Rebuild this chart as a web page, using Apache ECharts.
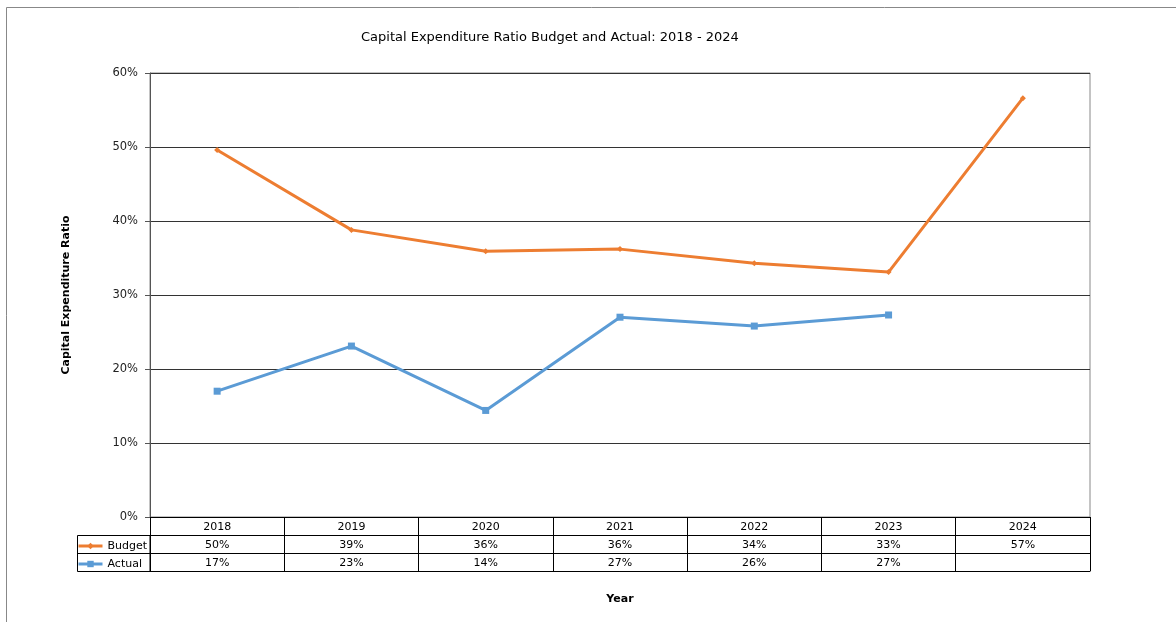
<!DOCTYPE html>
<html>
<head>
<meta charset="utf-8">
<script src="https://cdn.jsdelivr.net/npm/echarts@6/dist/echarts.min.js"></script>
<style>
  html, body { margin: 0; padding: 0; background: #fff; }
  #chart { width: 1176px; height: 622px; }
</style>
</head>
<body>
<div id="chart"></div>
<script>
// Capital expenditure ratio, budget vs actual, by year
const years = ['2018', '2019', '2020', '2021', '2022', '2023', '2024'];
const budget = [0.496, 0.388, 0.359, 0.362, 0.343, 0.331, 0.566];
const actual = [0.170, 0.231, 0.144, 0.270, 0.258, 0.273, null];
const yMin = 0, yMax = 0.6, yStep = 0.1;

const FONT = 'DejaVu Sans';
const pct = v => (v == null ? '' : Math.round(v * 100) + '%');

// plot rectangle
const G = { left: 150, top: 73, right: 86, bottom: 105 };
const ROW = 18;

const chart = echarts.init(document.getElementById('chart'), null, { renderer: 'canvas' });

function tableAxis(offset, formatter, extra) {
  return Object.assign({
    type: 'category',
    data: years,
    position: 'bottom',
    offset: offset,
    boundaryGap: true,
    axisLine: { show: true, lineStyle: { color: '#000', width: 1 } },
    axisTick: { show: true, length: ROW, lineStyle: { color: '#000', width: 1 } },
    splitLine: { show: false },
    axisLabel: {
      show: true, interval: 0, margin: 5,
      color: '#000', fontFamily: FONT, fontSize: 11,
      formatter: formatter
    }
  }, extra || {});
}

const H = 622;
const tableTop = H - G.bottom;

chart.setOption({
  backgroundColor: '#fff',
  animation: false,
  textStyle: { fontFamily: FONT },
  title: {
    text: 'Capital Expenditure Ratio Budget and Actual: 2018 - 2024',
    left: 356, top: 26,
    textStyle: { fontFamily: FONT, fontSize: 13, fontWeight: 'normal', color: '#000' }
  },
  grid: {
    left: G.left, top: G.top, right: G.right, bottom: G.bottom,
    show: true, borderColor: '#888', borderWidth: 1, backgroundColor: 'transparent'
  },
  legend: {
    orient: 'vertical',
    padding: 0,
    left: 77, top: tableTop + ROW + 4,
    itemWidth: 24, itemHeight: 8, itemGap: 4,
    lineStyle: { width: 3 },
    textStyle: { fontFamily: FONT, fontSize: 11, color: '#000', lineHeight: 14 },
    data: ['Budget', 'Actual']
  },
  xAxis: [
    tableAxis(0, v => v),
    tableAxis(ROW, (v, i) => pct(budget[i])),
    tableAxis(ROW * 2, (v, i) => pct(actual[i])),
    tableAxis(ROW * 3, v => v, {
      axisTick: { show: false },
      axisLabel: { show: false },
      name: 'Year',
      nameLocation: 'middle',
      nameGap: 23,
      nameTextStyle: { fontFamily: FONT, fontSize: 11, fontWeight: 'bold', color: '#000' }
    })
  ],
  yAxis: {
    type: 'value',
    min: yMin, max: yMax, interval: yStep,
    name: 'Capital Expenditure Ratio',
    nameLocation: 'middle',
    nameGap: 78,
    nameTextStyle: { fontFamily: FONT, fontSize: 11, fontWeight: 'bold', color: '#000' },
    axisLine: { show: true, lineStyle: { color: '#555', width: 1 } },
    axisTick: { show: true, length: 5, lineStyle: { color: '#555' } },
    axisLabel: {
      margin: 12, color: '#222', fontFamily: FONT, fontSize: 11.5,
      formatter: v => Math.round(v * 100) + '%'
    },
    splitLine: { show: true, lineStyle: { color: '#333', width: 1 } }
  },
  series: [
    {
      name: 'Budget', type: 'line', xAxisIndex: 0,
      data: budget,
      color: '#ED7D31',
      lineStyle: { width: 3, color: '#ED7D31' },
      symbol: 'diamond', symbolSize: 6,
      itemStyle: { color: '#ED7D31' },
      z: 3
    },
    {
      name: 'Actual', type: 'line', xAxisIndex: 0,
      data: actual,
      color: '#5B9BD5',
      lineStyle: { width: 3, color: '#5B9BD5' },
      symbol: 'rect', symbolSize: 7,
      itemStyle: { color: '#5B9BD5' },
      z: 3
    }
  ],
  graphic: [
    // outer chart frame
    {
      type: 'rect', silent: true,
      shape: { x: 6.5, y: 7.5, width: 1300, height: 800 },
      style: { fill: 'none', stroke: '#888', lineWidth: 1 }
    },
    // legend key cells of the data table
    {
      type: 'rect', silent: true,
      shape: { x: 77.5, y: tableTop + ROW + 0.5, width: G.left - 77.5, height: ROW * 2 },
      style: { fill: 'none', stroke: '#000', lineWidth: 1 }
    },
    {
      type: 'line', silent: true,
      shape: { x1: 77.5, y1: tableTop + ROW * 2 + 0.5, x2: G.left, y2: tableTop + ROW * 2 + 0.5 },
      style: { stroke: '#000', lineWidth: 1 }
    }
  ]
});
</script>
</body>
</html>
